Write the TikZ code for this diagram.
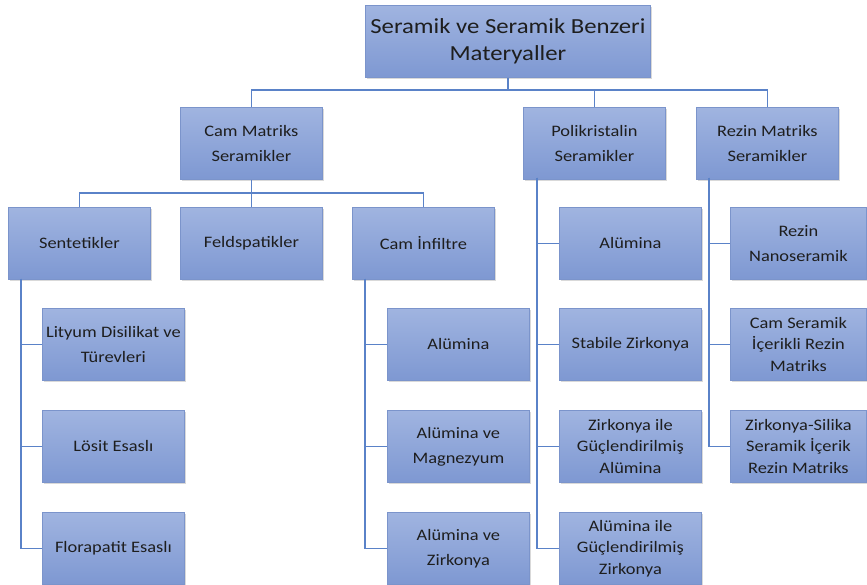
\documentclass[tikz,border=0pt]{standalone}
\usepackage{fontspec}
\setmainfont{Carlito}[FakeStretch=1.15]
\usetikzlibrary{shadows}
\definecolor{boxtop}{HTML}{A0B4E0}
\definecolor{boxbot}{HTML}{7E98D2}
\definecolor{boxline}{HTML}{7B94CB}
\definecolor{conn}{HTML}{5A82C8}
\definecolor{txt}{HTML}{1E1E1E}
\tikzset{
  box/.style={anchor=north west, draw=boxline, line width=0.8pt, top color=boxtop, bottom color=boxbot,
    minimum width=142pt, minimum height=72pt, align=center, inner sep=2pt, text=txt,
    font=\fontsize{16}{25}\selectfont,
    drop shadow={shadow xshift=1.2pt, shadow yshift=-1.2pt, opacity=0.25, fill=black!60}},
  narrowbox/.style={box, minimum width=136pt},
  tbox/.style={box, minimum width=285pt, font=\fontsize{21.5}{27}\selectfont},
  tight/.style={font=\fontsize{16}{21.5}\selectfont},
  link/.style={draw=conn, line width=1.4pt}
}
\begin{document}
\begin{tikzpicture}[x=1pt,y=-1pt]
\useasboundingbox (0,0) rectangle (867,585);
% level 1
\node[tbox] (title) at (365,5) {Seramik ve Seramik Benzeri\\Materyaller};
% level 2
\node[box] (cm) at (180,107) {Cam Matriks\\Seramikler};
\node[box] (pk) at (523,107) {Polikristalin\\Seramikler};
\node[box] (rm) at (696,107) {Rezin Matriks\\Seramikler};
% level 3
\node[box] (sent) at (8,207) {Sentetikler};
\node[box] (feld) at (180,207) {Feldspatikler};
\node[box] (ci) at (352,207) {Cam İnfiltre};
% Sentetikler children
\node[box] (lit) at (42,308) {Lityum Disilikat ve\\Türevleri};
\node[box] (los) at (42,410) {Lösit Esaslı};
\node[box] (flo) at (42,512) {Florapatit Esaslı};
% Cam infiltre children
\node[box] (ci1) at (387,308) {Alümina};
\node[box] (ci2) at (387,410) {Alümina ve\\Magnezyum};
\node[box] (ci3) at (387,512) {Alümina ve\\Zirkonya};
% Polikristalin children
\node[box] (pk1) at (559,207) {Alümina};
\node[box] (pk2) at (559,308) {Stabile Zirkonya};
\node[box, tight] (pk3) at (559,410) {Zirkonya ile\\Güçlendirilmiş\\Alümina};
\node[box, tight] (pk4) at (559,512) {Alümina ile\\Güçlendirilmiş\\Zirkonya};
% Rezin children
\node[narrowbox] (rm1) at (730,207) {Rezin\\Nanoseramik};
\node[narrowbox, tight] (rm2) at (730,308) {Cam Seramik\\İçerikli Rezin\\Matriks};
\node[narrowbox, tight] (rm3) at (730,410) {Zirkonya-Silika\\Seramik İçerik\\Rezin Matriks};
% buses
\coordinate (b1) at (0,90);
\coordinate (b2) at (0,193);
\coordinate (sv) at (21,279);
\coordinate (cv) at (365,279);
\coordinate (pv) at (537,178);
\coordinate (rv) at (709,178);
% connectors
\begin{scope}[on background layer/.try]
\draw[link] (title.south) -- (title.south |- b1);
\draw[link] (cm.north) -- (cm.north |- b1) -- (rm.north |- b1) -- (rm.north);
\draw[link] (pk.north) -- (pk.north |- b1);
\draw[link] (cm.south) -- (feld.north);
\draw[link] (sent.north) -- (sent.north |- b2) -- (ci.north |- b2) -- (ci.north);
\draw[link] (sv) |- (lit.west);
\draw[link] (sv) |- (los.west);
\draw[link] (sv) |- (flo.west);
\draw[link] (cv) |- (ci1.west);
\draw[link] (cv) |- (ci2.west);
\draw[link] (cv) |- (ci3.west);
\draw[link] (pv) |- (pk1.west);
\draw[link] (pv) |- (pk2.west);
\draw[link] (pv) |- (pk3.west);
\draw[link] (pv) |- (pk4.west);
\draw[link] (rv) |- (rm1.west);
\draw[link] (rv) |- (rm2.west);
\draw[link] (rv) |- (rm3.west);
\end{scope}
\end{tikzpicture}
\end{document}
